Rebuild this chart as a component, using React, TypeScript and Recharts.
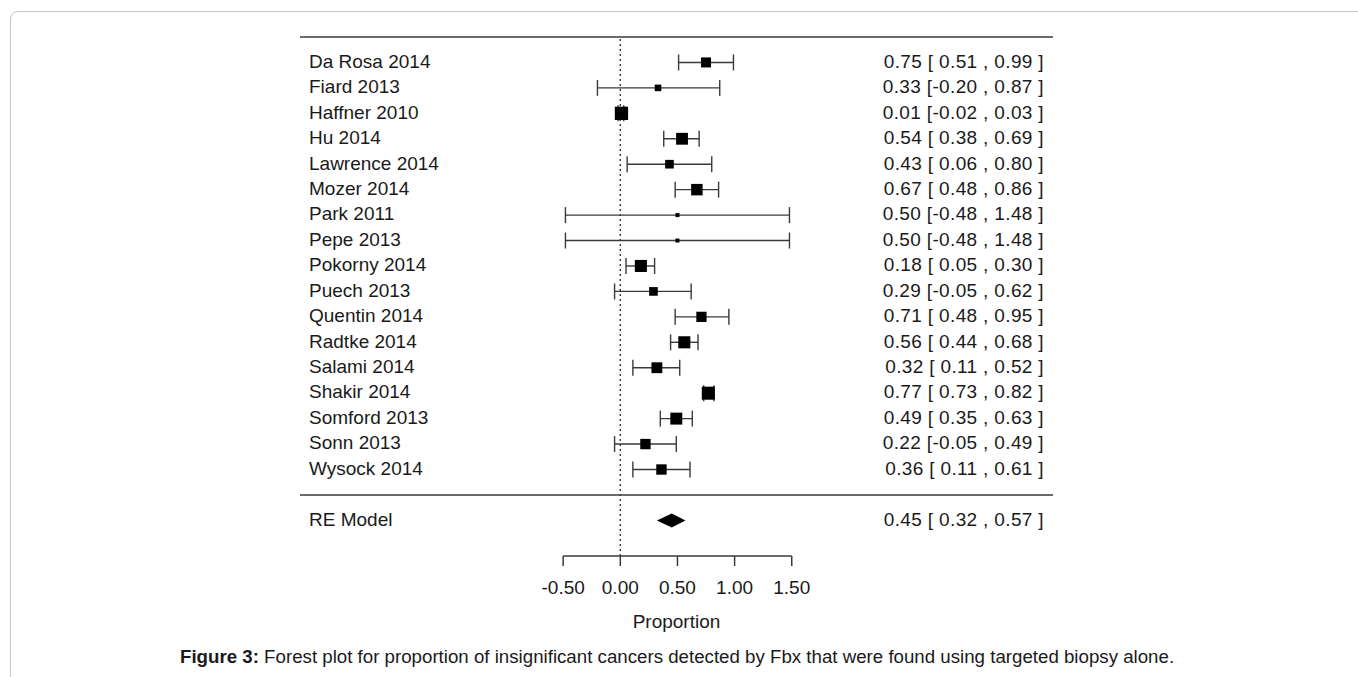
import React from "react";
import {
  ScatterChart,
  Scatter,
  XAxis,
  YAxis,
  ErrorBar,
  ReferenceLine,
} from "recharts";

const studies = [
  "Da Rosa 2014",
  "Fiard 2013",
  "Haffner 2010",
  "Hu 2014",
  "Lawrence 2014",
  "Mozer 2014",
  "Park 2011",
  "Pepe 2013",
  "Pokorny 2014",
  "Puech 2013",
  "Quentin 2014",
  "Radtke 2014",
  "Salami 2014",
  "Shakir 2014",
  "Somford 2013",
  "Sonn 2013",
  "Wysock 2014",
];
const estimates = [0.75, 0.33, 0.01, 0.54, 0.43, 0.67, 0.5, 0.5, 0.18, 0.29, 0.71, 0.56, 0.32, 0.77, 0.49, 0.22, 0.36];
const lower = [0.51, -0.2, -0.02, 0.38, 0.06, 0.48, -0.48, -0.48, 0.05, -0.05, 0.48, 0.44, 0.11, 0.73, 0.35, -0.05, 0.11];
const upper = [0.99, 0.87, 0.03, 0.69, 0.8, 0.86, 1.48, 1.48, 0.3, 0.62, 0.95, 0.68, 0.52, 0.82, 0.63, 0.49, 0.61];
// study weights (%), drive the square size
const weights = [5.3, 2.5, 8.0, 6.8, 4.2, 6.5, 0.4, 0.4, 7.0, 4.2, 5.5, 7.0, 6.0, 7.8, 6.9, 5.6, 5.6];

const summaryLabel = "RE Model";
const summaryEstimate = 0.45;
const summaryLower = 0.32;
const summaryUpper = 0.57;

const xTicks = [-0.5, 0, 0.5, 1, 1.5];
const xLabel = "Proportion";

const FONT = "'Liberation Sans', Arial, Helvetica, sans-serif";
const INK = "#1a1a1a";
const LINE = "#3a3a3a";

// lower bounds include negatives, so positives get a leading pad like R does
const fmtLo = (v: number) => (v < 0 ? v.toFixed(2) : " " + v.toFixed(2));
const ciText = (e: number, lo: number, hi: number) =>
  `${e.toFixed(2)} [${fmtLo(lo)} , ${hi.toFixed(2)} ]`;

const separatorRow = studies.length;
const summaryRow = studies.length + 1;

const wMin = Math.min(...weights);
const wMax = Math.max(...weights);
const sideOf = (w: number) => 4 + ((w - wMin) / (wMax - wMin)) * 9.3;

const studyData = studies.map((name, i) => ({
  name,
  x: estimates[i],
  y: i,
  err: [estimates[i] - lower[i], upper[i] - estimates[i]],
  side: sideOf(weights[i]),
}));

const summaryData = [
  { x: summaryLower, y: summaryRow },
  { x: summaryEstimate, y: summaryRow },
  { x: summaryUpper, y: summaryRow },
];

const leftText: Record<number, string> = {};
const rightText: Record<number, string> = {};
studies.forEach((s, i) => {
  leftText[i] = s;
  rightText[i] = ciText(estimates[i], lower[i], upper[i]);
});
leftText[summaryRow] = summaryLabel;
rightText[summaryRow] = ciText(summaryEstimate, summaryLower, summaryUpper);
const rowTicks = [...studies.map((_, i) => i), summaryRow];

const LeftTick = (props: any) => {
  const { x, y, payload } = props;
  return (
    <text x={x + 9} y={y} dy="0.28em" textAnchor="start" fontSize={19} fontFamily={FONT} fill={INK}>
      {leftText[payload.value]}
    </text>
  );
};

const RightTick = (props: any) => {
  const { x, y, payload } = props;
  return (
    <text
      x={x - 9}
      y={y}
      dy="0.28em"
      textAnchor="end"
      fontSize={19}
      fontFamily={FONT}
      fill={INK}
      letterSpacing={0.35}
      style={{ whiteSpace: "pre" }}
    >
      {rightText[payload.value]}
    </text>
  );
};

const Square = (props: any) => {
  const { cx, cy, payload } = props;
  const s = payload.side;
  return <rect x={cx - s / 2} y={cy - s / 2} width={s} height={s} fill="#000" />;
};

const Diamond = (props: any) => {
  const pts = [...(props.points || [])].sort((a: any, b: any) => a.x - b.x);
  if (pts.length < 3) return <g />;
  const [l, m, r] = pts;
  const h = 7;
  return (
    <polygon
      points={`${l.x},${l.y} ${m.x},${m.y - h} ${r.x},${r.y} ${m.x},${m.y + h}`}
      fill="#000"
    />
  );
};

export default function App() {
  return (
    <div
      style={{
        position: "absolute",
        left: 0,
        top: 0,
        width: 1358,
        height: 677,
        overflow: "hidden",
        background: "#fff",
      }}
    >
      <div
        style={{
          position: "absolute",
          left: 10,
          top: 11,
          width: 1400,
          height: 720,
          border: "1px solid #c4c4c4",
          borderRadius: 8,
          boxSizing: "border-box",
        }}
      />
      <div style={{ position: "absolute", left: 0, top: 0 }}>
        <ScatterChart
          width={1358}
          height={677}
          margin={{ top: 37, right: 304, bottom: 61, left: 299 }}
        >
          <XAxis
            type="number"
            dataKey="x"
            domain={[-2.8023, 3.7857]}
            allowDataOverflow
            ticks={xTicks}
            interval={0}
            tickFormatter={(v: number) => v.toFixed(2)}
            axisLine={false}
            tickLine={{ stroke: LINE, strokeWidth: 1.5 }}
            tickSize={10}
            tickMargin={15}
            height={60}
            tick={{ fontSize: 19, fontFamily: FONT, fill: INK }}
            label={{
              value: xLabel,
              position: "bottom",
              offset: -1,
              style: { fontSize: 19, fontFamily: FONT, fill: INK },
            }}
          />
          <YAxis
            yAxisId="left"
            type="number"
            dataKey="y"
            orientation="left"
            domain={[-1, 19.4]}
            reversed
            allowDataOverflow
            width={1}
            ticks={rowTicks}
            interval={0}
            axisLine={false}
            tickLine={false}
            tickSize={0}
            tickMargin={0}
            tick={<LeftTick />}
          />
          <YAxis
            yAxisId="right"
            type="number"
            dataKey="y"
            orientation="right"
            domain={[-1, 19.4]}
            reversed
            allowDataOverflow
            width={1}
            ticks={rowTicks}
            interval={0}
            axisLine={false}
            tickLine={false}
            tickSize={0}
            tickMargin={0}
            tick={<RightTick />}
          />
          <ReferenceLine yAxisId="left" y={-1} stroke={LINE} strokeWidth={1.6} />
          <ReferenceLine yAxisId="left" y={separatorRow} stroke={LINE} strokeWidth={1.6} />
          <ReferenceLine yAxisId="left" x={0} stroke={LINE} strokeWidth={1.4} strokeDasharray="2 3" />
          <ReferenceLine
            yAxisId="left"
            segment={[
              { x: xTicks[0], y: 19.4 },
              { x: xTicks[xTicks.length - 1], y: 19.4 },
            ]}
            stroke={LINE}
            strokeWidth={1.5}
          />
          <Scatter
            yAxisId="left"
            data={studyData}
            shape={<Square />}
            isAnimationActive={false}
          >
            <ErrorBar dataKey="err" direction="x" width={8} stroke={LINE} strokeWidth={1.4} />
          </Scatter>
          <Scatter
            yAxisId="left"
            data={summaryData}
            shape={() => <g />}
            line={(p: any) => <Diamond {...p} />}
            isAnimationActive={false}
          />
        </ScatterChart>
      </div>
      <div
        style={{
          position: "absolute",
          left: 180,
          top: 646,
          fontFamily: FONT,
          fontSize: 18.7,
          color: INK,
          whiteSpace: "nowrap",
          lineHeight: "22px",
        }}
      >
        <b>Figure 3:</b> Forest plot for proportion of insignificant cancers detected by Fbx that were found using targeted biopsy alone.
      </div>
    </div>
  );
}
